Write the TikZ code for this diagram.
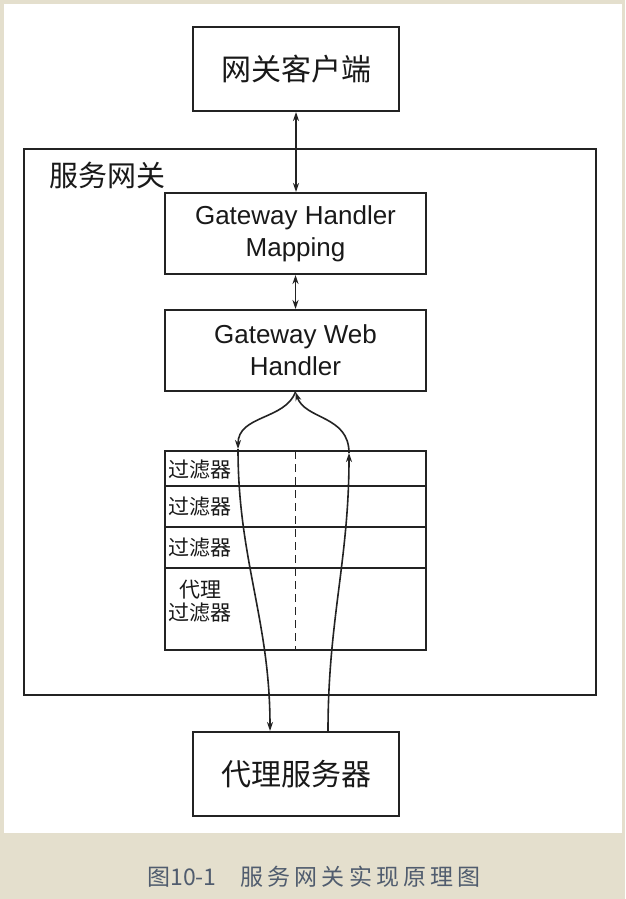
\documentclass[tikz,border=0pt]{standalone}
\usepackage{fontspec}
\setmainfont{Liberation Sans}
\newfontfamily\cjk{Noto Sans CJK SC}
\newfontfamily\capfont[LetterSpace=18]{Noto Sans CJK SC}
\usetikzlibrary{arrows.meta, positioning}
\definecolor{pagebeige}{RGB}{228,223,205}
\definecolor{inkgray}{RGB}{35,35,35}
\definecolor{capblue}{RGB}{80,92,110}

\begin{document}
\begin{tikzpicture}[x=1pt, y=-1pt, >=Stealth]

  \tikzset{
    box/.style = {
      rectangle, draw=inkgray, line width=2pt, fill=white,
      inner sep=0pt, align=center, text=black!90
    },
    endbox/.style = {
      box, minimum width=206pt, minimum height=84pt,
      font=\cjk\fontsize{30}{36}\selectfont
    },
    handlerbox/.style = {
      box, minimum width=261pt, minimum height=81pt,
      font=\fontsize{26}{32}\selectfont
    },
    filterrow/.style = {
      rectangle, draw=inkgray, line width=2pt,
      minimum width=261pt, inner sep=0pt, outer sep=0pt
    },
    filtertxt/.style = {
      font=\cjk\fontsize{21}{23}\selectfont, align=center,
      inner sep=0pt, text=black!90
    },
    twoway/.style = {
      {Stealth[length=9pt, width=6pt]}-{Stealth[length=9pt, width=6pt]},
      line width=1.6pt, draw=inkgray
    },
    flow/.style = {
      -{Stealth[length=9pt, width=6pt]}, line width=1.6pt, draw=inkgray
    }
  }

  % --- Page: beige frame with white panel ------------------------------------
  \fill [pagebeige] (0,0) rectangle (625,899);
  \fill [white] (4,4) rectangle (622,833);
  \useasboundingbox (0,0) rectangle (625,899);

  % --- Gateway and its parts -------------------------------------------------
  \node (gw) [box, minimum width=572pt, minimum height=546pt] at (310,422) {};
  \node (gwlabel) [anchor=west, inner sep=0pt, text=black!90,
                   font=\cjk\fontsize{29}{34}\selectfont] at (49,175) {服务网关};

  \node (client) [endbox] at (296,69) {网关客户端};

  \node (ghm) [handlerbox] at (295.5,233.5) {Gateway Handler\\Mapping};
  \node (gwh) [handlerbox, below=34pt of ghm] {Gateway Web\\Handler};

  % --- Filter chain ----------------------------------------------------------
  \node (f1) [filterrow, minimum height=35pt, below=59pt of gwh] {};
  \node (f2) [filterrow, minimum height=41pt, below=0pt of f1] {};
  \node (f3) [filterrow, minimum height=41pt, below=0pt of f2] {};
  \node (f4) [filterrow, minimum height=82pt, below=0pt of f3] {};

  \node (t1) [filtertxt, anchor=west] at ([xshift=3pt, yshift=-1pt]f1.west) {过滤器};
  \node (t2) [filtertxt, anchor=west] at ([xshift=3pt]f2.west) {过滤器};
  \node (t3) [filtertxt, anchor=west] at ([xshift=3pt]f3.west) {过滤器};
  \node (t4) [filtertxt] at ([xshift=35pt, yshift=8pt]f4.west) {代理\\过滤器};

  \draw [inkgray, line width=1.4pt, dash pattern=on 8pt off 5pt]
    (f1.north) -- (f4.south);

  \node (proxy) [endbox] at (296,774) {代理服务器};

  % --- Caption ---------------------------------------------------------------
  \node (caption) [font=\cjk\fontsize{23}{26}\selectfont, text=capblue]
    at (314,877) {图10-1\hspace{24pt}{\capfont 服务网关实现原理图}};

  % --- Connectors ------------------------------------------------------------
  \draw [twoway] (client.south) -- (client.south |- ghm.north);
  \draw [twoway] (ghm) -- (gwh);

  \coordinate (reqin) at (238,449);
  \coordinate (resin) at (349,453);

  % request: down through the filters to the proxy server
  \draw [flow] (gwh.south) .. controls (285,420) and (238,415) .. (reqin);
  \draw [flow] (reqin) .. controls (238,560) and (270,620)
    .. ([xshift=-26pt]proxy.north);

  % response: back up to the web handler
  \draw [flow] ([xshift=32pt]proxy.north) .. controls (328,620) and (349,560)
    .. (resin);
  \draw [flow] (resin) .. controls (349,415) and (305,420) .. (gwh.south);

\end{tikzpicture}
\end{document}
